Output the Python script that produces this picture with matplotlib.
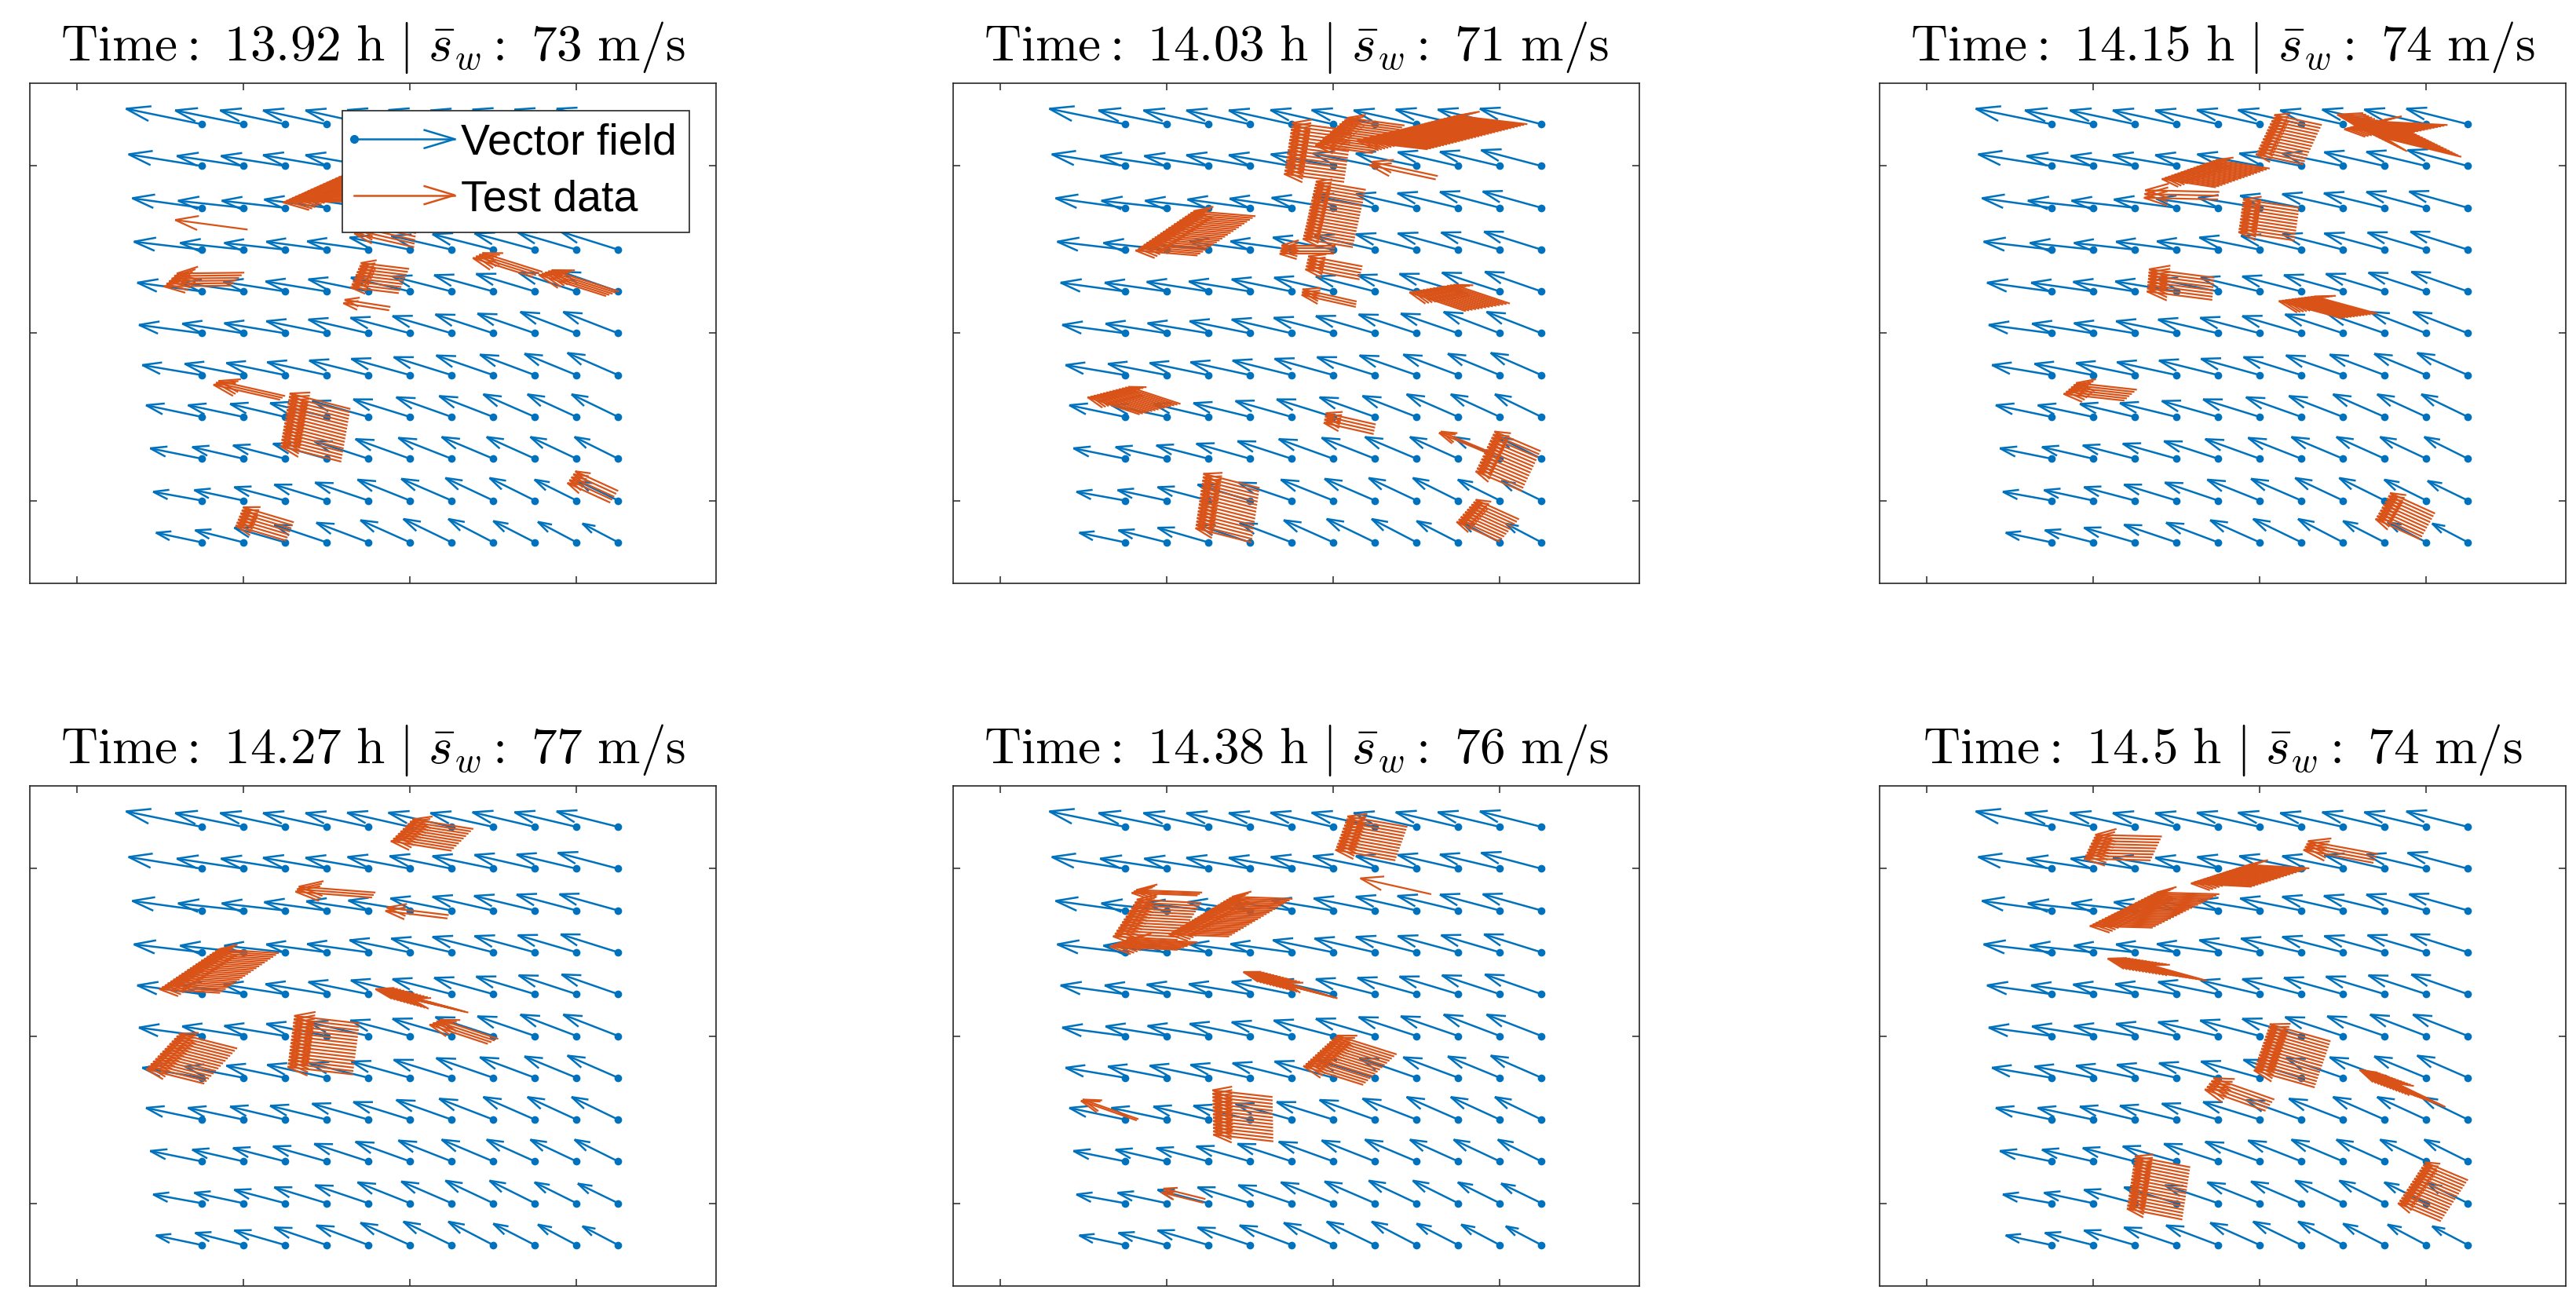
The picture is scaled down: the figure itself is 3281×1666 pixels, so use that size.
import matplotlib

matplotlib.use("Agg")
import matplotlib.pyplot as plt
import numpy as np
from matplotlib.collections import LineCollection
from matplotlib.legend_handler import HandlerBase
from matplotlib.lines import Line2D

BLUE = "#0072BD"
ORANGE = "#D95319"

plt.rcParams["mathtext.fontset"] = "cm"
plt.rcParams["font.family"] = ["Liberation Sans", "DejaVu Sans"]

TIMES = ["13.92", "14.03", "14.15", "14.27", "14.38", "14.5"]
SPEEDS = [73, 71, 74, 77, 76, 74]

# vector field, same grid in every panel, rows from the top
COLS = np.arange(11)
ROWS = np.arange(11)
FIELD_U = np.array([
    [1.82, 1.64, 1.56, 1.53, 1.51, 1.51, 1.52, 1.51, 1.50, 1.49, 1.48],
    [1.76, 1.60, 1.54, 1.53, 1.51, 1.50, 1.49, 1.46, 1.45, 1.44, 1.45],
    [1.67, 1.57, 1.52, 1.50, 1.49, 1.48, 1.47, 1.46, 1.46, 1.44, 1.41],
    [1.63, 1.52, 1.46, 1.45, 1.47, 1.45, 1.45, 1.46, 1.45, 1.41, 1.38],
    [1.55, 1.49, 1.48, 1.47, 1.44, 1.42, 1.42, 1.42, 1.41, 1.39, 1.36],
    [1.51, 1.47, 1.46, 1.45, 1.44, 1.43, 1.42, 1.39, 1.38, 1.35, 1.32],
    [1.43, 1.41, 1.41, 1.43, 1.42, 1.41, 1.39, 1.37, 1.32, 1.25, 1.22],
    [1.34, 1.33, 1.32, 1.36, 1.35, 1.36, 1.33, 1.30, 1.24, 1.18, 1.12],
    [1.24, 1.23, 1.25, 1.29, 1.30, 1.31, 1.28, 1.24, 1.16, 1.11, 1.05],
    [1.17, 1.18, 1.22, 1.26, 1.28, 1.26, 1.21, 1.15, 1.09, 1.01, 0.97],
    [1.10, 1.16, 1.22, 1.26, 1.25, 1.19, 1.16, 1.08, 1.00, 0.93, 0.86],
])
FIELD_V = np.array([
    [0.37, 0.33, 0.33, 0.33, 0.33, 0.34, 0.34, 0.33, 0.35, 0.35, 0.37],
    [0.28, 0.24, 0.24, 0.26, 0.26, 0.28, 0.30, 0.30, 0.33, 0.34, 0.38],
    [0.23, 0.17, 0.17, 0.20, 0.22, 0.24, 0.29, 0.33, 0.35, 0.38, 0.39],
    [0.19, 0.16, 0.16, 0.19, 0.20, 0.29, 0.33, 0.37, 0.39, 0.41, 0.43],
    [0.21, 0.21, 0.23, 0.24, 0.29, 0.33, 0.36, 0.39, 0.42, 0.45, 0.47],
    [0.20, 0.23, 0.24, 0.29, 0.33, 0.37, 0.41, 0.45, 0.47, 0.51, 0.51],
    [0.24, 0.27, 0.29, 0.31, 0.35, 0.39, 0.43, 0.47, 0.49, 0.51, 0.53],
    [0.28, 0.28, 0.31, 0.33, 0.38, 0.42, 0.47, 0.50, 0.54, 0.54, 0.54],
    [0.25, 0.28, 0.32, 0.36, 0.42, 0.47, 0.50, 0.52, 0.52, 0.52, 0.52],
    [0.21, 0.25, 0.32, 0.38, 0.43, 0.50, 0.52, 0.54, 0.54, 0.50, 0.47],
    [0.23, 0.29, 0.35, 0.42, 0.47, 0.53, 0.56, 0.56, 0.51, 0.49, 0.45],
])

# test data: one stack of parallel arrows per tuple
# (first tail col, row, last tail col, row, arrow du, dv)
# single arrows inside a stack can't be read, so tails get spaced along first->last
TRACKS_1 = [
    (3.93, 1.84, 5.49, 1.14, -1.98, 0.03),
    (5.19, 2.27, 5.10, 2.94, -1.44, -0.33),
    (8.18, 3.53, 7.95, 3.65, -1.44, -0.45),
    (10.02, 4.00, 9.71, 4.11, -1.62, -0.51),
    (1.02, 3.55, 0.71, 3.86, -1.62, 0.02),
    (4.98, 3.46, 4.73, 4.04, -1.16, -0.14),
    (4.53, 4.37, 4.50, 4.45, -1.10, -0.17),
    (1.10, 2.52, 1.10, 2.52, -1.74, -0.23),
    (3.57, 6.81, 3.35, 8.07, -1.46, -0.37),
    (2.00, 6.50, 1.88, 6.59, -1.60, -0.36),
    (10.00, 8.77, 9.81, 9.05, -1.03, -0.47),
    (2.21, 9.52, 2.03, 9.96, -1.22, -0.36),
]
TRACKS_2 = [
    (9.66, 0.00, 7.27, 0.60, -1.70, -0.20),
    (6.71, 0.03, 5.95, 0.69, -1.38, -0.18),
    (5.45, 0.16, 5.26, 1.38, -1.44, -0.19),
    (7.51, 1.24, 7.46, 1.32, -1.59, -0.34),
    (5.78, 1.57, 5.47, 2.94, -1.20, -0.20),
    (5.06, 2.90, 5.01, 3.10, -1.30, 0.00),
    (5.70, 3.40, 5.63, 3.71, -1.30, -0.24),
    (5.56, 4.24, 5.54, 4.37, -1.30, -0.29),
    (9.24, 4.29, 8.18, 4.47, -1.35, -0.45),
    (3.13, 2.20, 1.74, 3.14, -1.49, -0.12),
    (1.33, 6.69, 0.35, 6.94, -1.25, -0.41),
    (6.02, 7.18, 5.97, 7.41, -1.20, -0.27),
    (9.98, 7.82, 9.53, 8.77, -1.11, -0.47),
    (8.71, 7.82, 8.67, 7.85, -1.13, -0.47),
    (3.23, 8.70, 3.04, 10.00, -1.35, -0.34),
    (9.46, 9.45, 9.00, 9.98, -1.04, -0.47),
]
TRACKS_3 = [
    (9.51, 0.02, 8.65, 0.20, -1.62, -0.08),
    (8.70, 0.22, 9.84, 0.78, -1.84, -0.45),
    (6.49, 0.02, 6.05, 0.96, -1.14, -0.24),
    (5.24, 1.06, 3.95, 1.51, -1.30, -0.20),
    (4.03, 1.62, 4.00, 1.80, -1.78, -0.04),
    (5.95, 2.00, 5.84, 2.78, -1.35, -0.20),
    (3.91, 3.67, 3.86, 4.20, -1.57, -0.20),
    (7.82, 4.53, 6.97, 4.64, -1.51, -0.41),
    (2.05, 6.35, 1.75, 6.61, -1.46, -0.16),
    (9.21, 9.31, 8.86, 9.93, -1.08, -0.49),
]
TRACKS_4 = [
    (6.52, 0.05, 6.00, 0.57, -1.46, -0.23),
    (4.17, 1.57, 4.09, 1.69, -1.84, -0.14),
    (5.93, 2.11, 5.90, 2.19, -1.49, -0.18),
    (1.85, 3.02, 0.44, 3.97, -1.46, -0.09),
    (6.40, 4.44, 5.52, 4.20, -1.35, -0.32),
    (7.12, 5.07, 6.87, 5.19, -1.40, -0.46),
    (3.79, 4.70, 3.63, 5.92, -1.57, -0.18),
    (0.85, 5.30, 0.06, 6.14, -1.40, -0.35),
]
TRACKS_5 = [
    (6.78, 0.00, 6.49, 0.80, -1.44, -0.25),
    (7.35, 1.61, 7.35, 1.61, -1.70, -0.38),
    (1.85, 1.57, 1.74, 1.64, -1.58, -0.06),
    (4.02, 1.72, 2.50, 2.62, -1.45, -0.05),
    (1.83, 1.82, 1.26, 2.70, -1.55, -0.08),
    (1.74, 2.76, 1.26, 2.94, -1.63, -0.08),
    (5.10, 4.10, 4.09, 3.84, -1.25, -0.37),
    (6.52, 5.44, 5.72, 6.17, -1.44, -0.45),
    (0.32, 6.99, 0.28, 7.02, -1.34, -0.47),
    (3.54, 6.46, 3.56, 7.52, -1.44, -0.16),
    (1.93, 8.90, 1.88, 8.99, -1.01, -0.25),
]
TRACKS_6 = [
    (2.65, 0.23, 2.38, 0.80, -1.60, -0.04),
    (7.84, 0.65, 7.73, 0.86, -1.68, -0.31),
    (6.19, 0.99, 4.81, 1.43, -1.46, -0.08),
    (4.03, 1.61, 2.43, 2.41, -1.51, -0.04),
    (3.73, 3.68, 2.70, 3.52, -1.35, -0.37),
    (6.70, 5.13, 6.32, 6.23, -1.46, -0.41),
    (5.35, 6.52, 5.14, 6.79, -1.46, -0.51),
    (9.46, 6.70, 8.59, 6.38, -1.19, -0.57),
    (3.33, 8.14, 3.14, 9.39, -1.33, -0.26),
    (10.00, 8.45, 9.35, 9.43, -1.03, -0.43),
]
ALL_TRACKS = [TRACKS_1, TRACKS_2, TRACKS_3, TRACKS_4, TRACKS_5, TRACKS_6]

TAIL_SPACING = 0.08
HEAD_FRAC = 0.33
HEAD_ANGLE = np.deg2rad(17)


def arrow_segments(x, y, u, v):
    """shaft plus the two open barbs of each arrow, x,y is the tail"""
    segs = []
    for x0, y0, du, dv in zip(x, y, u, v):
        tip = np.array([x0 + du, y0 + dv])
        segs.append([(x0, y0), tuple(tip)])
        for sign in (-1, 1):
            c, s = np.cos(sign * HEAD_ANGLE), np.sin(sign * HEAD_ANGLE)
            back = -HEAD_FRAC * np.array([c * du - s * dv, s * du + c * dv])
            segs.append([tuple(tip + back), tuple(tip)])
    return segs


def track_arrows(tracks):
    xs, ys, us, vs = [], [], [], []
    for x0, y0, x1, y1, du, dv in tracks:
        n = max(1, int(round(np.hypot(x1 - x0, y1 - y0) / TAIL_SPACING)) + 1)
        xs.extend(np.linspace(x0, x1, n))
        ys.extend(np.linspace(y0, y1, n))
        us.extend([du] * n)
        vs.extend([dv] * n)
    return xs, ys, us, vs


class ArrowHandler(HandlerBase):
    def create_artists(
        self, legend, orig_handle, xdescent, ydescent, width, height, fontsize, trans
    ):
        color = orig_handle.get_color()
        y = height / 2 - ydescent
        x0, x1 = -xdescent, width - xdescent
        barb = 0.3 * width
        shaft = Line2D(
            [x0, x1], [y, y], color=color, lw=orig_handle.get_linewidth(),
            marker=orig_handle.get_marker(), markevery=[0], ms=orig_handle.get_markersize(),
            transform=trans,
        )
        head = Line2D(
            [x1 - barb, x1, x1 - barb],
            [y + 0.3 * barb, y, y - 0.3 * barb],
            color=color, lw=orig_handle.get_linewidth(), transform=trans,
        )
        return [shaft, head]


fig = plt.figure(figsize=(32.81, 16.66), dpi=100)

lefts = [38, 1214, 2394]
tops = [106, 1001]
W, H = 874, 637

col_grid, row_grid = np.meshgrid(COLS, ROWS)
field_segs = arrow_segments(
    col_grid.ravel(), row_grid.ravel(), -FIELD_U.ravel(), -FIELD_V.ravel()
)

for i, tracks in enumerate(ALL_TRACKS):
    left = lefts[i % 3]
    top = tops[i // 3]
    ax = fig.add_axes([left / 3281, 1 - (top + H) / 1666, W / 3281, H / 1666])

    ax.add_collection(LineCollection(field_segs, colors=BLUE, linewidths=1.8, zorder=2))
    ax.plot(col_grid.ravel(), row_grid.ravel(), "o", color=BLUE, ms=7, mew=0, zorder=2)
    ax.add_collection(
        LineCollection(
            arrow_segments(*track_arrows(tracks)), colors=ORANGE, linewidths=1.6, zorder=3
        )
    )

    ax.set_xlim(-4.13, 12.35)
    ax.set_ylim(10.98, -0.98)
    ax.set_xticks([-3, 1, 5, 9])
    ax.set_yticks([1, 5, 9])
    ax.tick_params(
        direction="in", length=6.5, width=1.1, color="#262626",
        top=True, right=True, labelbottom=False, labelleft=False,
    )
    for spine in ax.spines.values():
        spine.set_linewidth(1.2)
        spine.set_color("#262626")

    ax.set_title(
        rf"$\mathrm{{Time}}{{:}}\ {TIMES[i]}\ \mathrm{{h}}\ |\ \bar{{s}}_w{{:}}\ {SPEEDS[i]}\ \mathrm{{m/s}}$",
        fontsize=47,
        pad=21,
    )

    if i == 0:
        handles = [
            Line2D([], [], color=BLUE, lw=1.8, marker="o", ms=7, mew=0, label="Vector field"),
            Line2D([], [], color=ORANGE, lw=1.8, label="Test data"),
        ]
        leg = ax.legend(
            handles=handles,
            handler_map={Line2D: ArrowHandler()},
            loc="upper left",
            bbox_to_anchor=(0.455, 0.945),
            borderaxespad=0,
            fontsize=40,
            handlelength=2.3,
            handletextpad=0.15,
            labelspacing=0.35,
            borderpad=0.28,
            fancybox=False,
            framealpha=1,
            edgecolor="#262626",
        )
        leg.get_frame().set_linewidth(1.2)
        leg.set_zorder(5)

fig.savefig("out.png", dpi=100)
